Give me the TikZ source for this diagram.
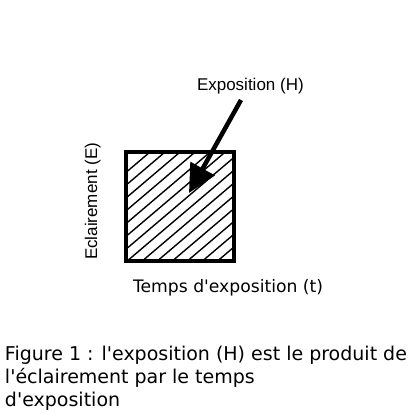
\documentclass[tikz,border=0pt]{standalone}
\usepackage{fontspec}
\setmainfont{DejaVu Sans}
\newfontfamily\arialfont{Liberation Sans}
\newfontfamily\verdfont{DejaVu Sans}
\usetikzlibrary{arrows.meta}
\tikzset{
  lbl/.style={inner sep=0pt, outer sep=0pt, font=\arialfont\fontsize{17pt}{20pt}\selectfont},
  vlbl/.style={inner sep=0pt, outer sep=0pt, font=\verdfont\fontsize{17.2pt}{20pt}\selectfont},
  caption/.style={inner sep=0pt, outer sep=0pt, font=\verdfont\fontsize{19pt}{23pt}\selectfont, align=left},
  hatch/.style={line width=1.4pt},
  frame/.style={line width=4.2pt, line join=miter},
  bigarrow/.style={line width=4.5pt, -{Triangle[length=28pt, width=27pt]}}
}
\begin{document}
\begin{tikzpicture}[x=1pt,y=-1pt]
\useasboundingbox (0,0) rectangle (416,414);
% hatching
\begin{scope}
  \clip (126,152) rectangle (234,261);
  \foreach \k in {0,...,14} {
    \pgfmathsetmacro{\c}{279.5+12.8*\k}
    \draw[hatch] (0,\c) -- (400,\c-340);
  }
\end{scope}
\node[draw=none, minimum width=108pt, minimum height=109pt, inner sep=0pt] (sq) at (180,206.5) {};
\draw[frame] (sq.north west) rectangle (sq.south east);
% arrow
\coordinate (atail) at (241,100);
\coordinate (ahead) at (189,193);
\draw[bigarrow] (atail) -- (ahead);
% labels
\node[lbl, anchor=base west] (expo) at (197,91) {Exposition (H)};
\node[lbl, anchor=base west, rotate=90] (ecl) at (97,260) {Eclairement (E)};
\node[vlbl, anchor=base west] (temps) at (133,293) {Temps d'exposition (t)};
\node[caption, anchor=base west] (cap1) at (5,361) {Figure 1 : l'exposition (H) est le produit de};
\node[caption, anchor=base west] (cap2) at (5,384) {l'éclairement par le temps};
\node[caption, anchor=base west] (cap3) at (5,407) {d'exposition};
\end{tikzpicture}
\end{document}
